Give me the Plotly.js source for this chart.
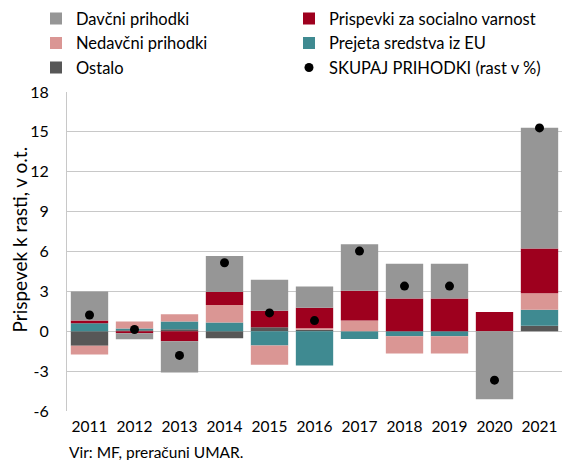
<!DOCTYPE html>
<html>
<head>
<meta charset="utf-8">
<script src="https://cdn.plot.ly/plotly-3.0.1.min.js"></script>
<style>html,body{margin:0;padding:0;background:#fff;}#chart{width:562px;height:460px;}</style>
</head>
<body>
<div id="chart"></div>
<script>
const years = ['2011','2012','2013','2014','2015','2016','2017','2018','2019','2020','2021'];
const ostalo    = [-1.10, 0.08, 0.15, -0.52, 0.30, 0.12, 0.00, 0.00, 0.00, 0.00, 0.42];
const eu        = [0.60, 0.12, 0.58, 0.65, -1.07, -2.57, -0.58, -0.38, -0.38, 0.00, 1.20];
const nedavcni  = [-0.65, 0.53, 0.55, 1.32, -1.45, 0.10, 0.80, -1.30, -1.30, 0.00, 1.23];
const prispevki = [0.20, -0.15, -0.75, 0.98, 1.25, 1.55, 2.25, 2.47, 2.47, 1.45, 3.38];
const davcni    = [2.20, -0.45, -2.35, 2.72, 2.33, 1.60, 3.50, 2.60, 2.60, -5.12, 9.08];
const skupaj    = [1.22, 0.13, -1.82, 5.15, 1.38, 0.80, 6.03, 3.40, 3.40, -3.68, 15.30];
const yTicks = [-6, -3, 0, 3, 6, 9, 12, 15, 18];

const FONT = 'Lato, sans-serif';
function bar(name, y, color, rank, leg) {
  return {type:'bar', name:name, x:years, y:y, marker:{color:color}, legendrank:rank, legend:leg, hoverinfo:'skip'};
}
const data = [
  bar('Ostalo', ostalo, '#575757', 3, 'legend'),
  bar('Prejeta sredstva iz EU', eu, '#3f8a91', 2, 'legend2'),
  bar('Nedavčni prihodki', nedavcni, '#da9694', 2, 'legend'),
  bar('Prispevki za socialno varnost', prispevki, '#9e001e', 1, 'legend2'),
  bar('Davčni prihodki', davcni, '#969696', 1, 'legend'),
  {type:'scatter', mode:'markers', name:'SKUPAJ PRIHODKI (rast v %)', x:years, y:skupaj,
   marker:{color:'#000', size:9}, legendrank:3, legend:'legend2', hoverinfo:'skip'}
];
const legBase = {orientation:'v', xref:'container', yref:'container', y:0.997, xanchor:'left', yanchor:'top',
                 font:{family:FONT, size:16.5}, traceorder:'normal', bgcolor:'rgba(0,0,0,0)'};
const layout = {
  width:562, height:460,
  margin:{l:67, r:0, t:92, b:49, autoexpand:false},
  barmode:'relative', bargap:0.17,
  paper_bgcolor:'#fff', plot_bgcolor:'#fff',
  font:{family:FONT, size:16, color:'#000'},
  showlegend:true,
  legend:Object.assign({}, legBase, {x:36/562}),
  legend2:Object.assign({}, legBase, {x:289/562}),
  xaxis:{type:'category', range:[-0.5,10.5], showline:false, showgrid:false, ticks:'', zeroline:false,
         ticklabelstandoff:4, tickfont:{family:FONT, size:15.5}, fixedrange:true, automargin:false},
  yaxis:{range:[-6,18], tickvals:yTicks, ticktext:yTicks.map(String), showgrid:true, gridcolor:'#c8c8c8', gridwidth:1,
         zeroline:false, showline:true, linecolor:'#c8c8c8', linewidth:1, ticks:'', ticklabelstandoff:14,
         tickfont:{family:FONT, size:16}, fixedrange:true, automargin:false},
  annotations:[
    {text:'Prispevek k rasti, v o.t.', textangle:-90, xref:'paper', yref:'paper',
     x:(18.5-67)/495, y:(411-240)/319, xanchor:'center', yanchor:'middle', showarrow:false,
     font:{family:FONT, size:19}},
    {text:'Vir: MF, preračuni UMAR.', xref:'paper', yref:'paper', x:0, y:-0.128, xanchor:'left', yanchor:'middle',
     showarrow:false, font:{family:FONT, size:15.5}}]
};
Plotly.newPlot('chart', data, layout, {displayModeBar:false, staticPlot:true});
</script>
</body>
</html>
